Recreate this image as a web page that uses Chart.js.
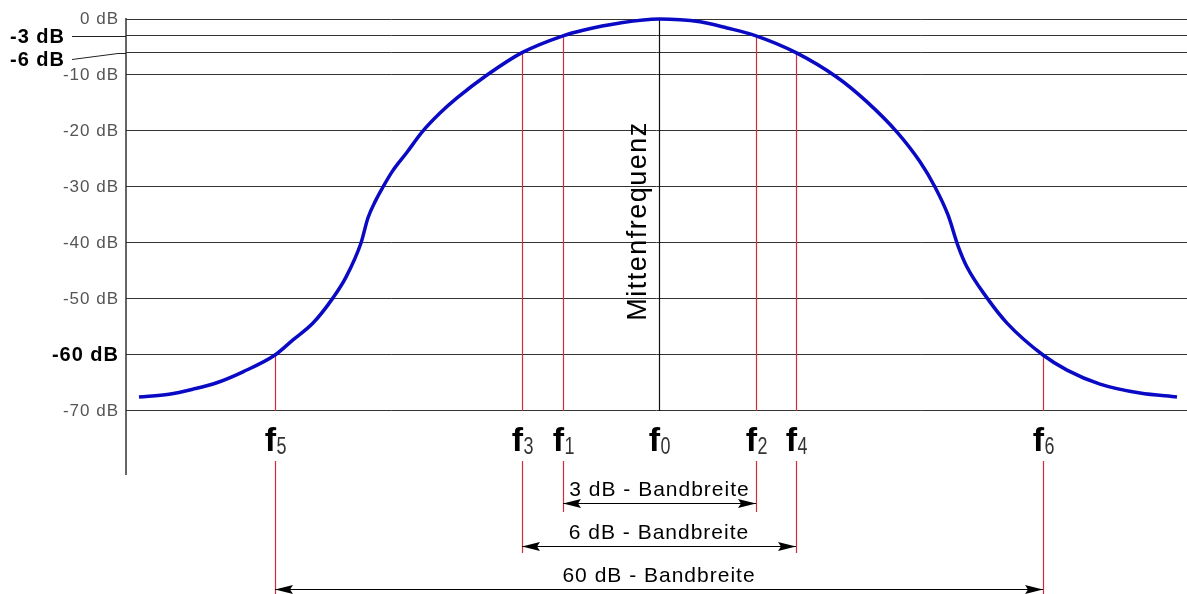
<!DOCTYPE html>
<html>
<head>
<meta charset="utf-8">
<script src="https://cdn.jsdelivr.net/npm/chart.js@4.4.0/dist/chart.umd.min.js"></script>
<style>
  html, body { margin: 0; padding: 0; background: #fff; }
  canvas { display: block; }
</style>
</head>
<body>
<canvas id="filterChart" width="1187" height="594"></canvas>
<script>
// frequency offset from the centre frequency (arbitrary units) and level in dB
const freq = [-5.20, -4.90, -4.66, -4.43, -4.16, -3.84, -3.66, -3.46, -3.26, -3.13,
  -2.98, -2.91, -2.83, -2.76, -2.67, -2.52, -2.37, -2.19, -2.02, -1.72,
  -1.37, -0.96, -0.76, -0.39, 0, 0.41, 0.68, 0.97, 1.37, 1.78,
  2.08, 2.38, 2.61, 2.76, 2.89, 2.99, 3.08, 3.28, 3.48, 3.84,
  4.08, 4.41, 4.81, 5.18];
const level = [-67.5, -67.0, -66.1, -65.0, -63.0, -60.0, -57.3, -54.3, -49.8, -46.1,
  -40.0, -35.5, -32.3, -30.0, -27.3, -23.8, -20.2, -16.8, -14.1, -10.0,
  -6.0, -3.0, -2.0, -0.7, 0, -0.5, -1.6, -3.0, -6.0, -10.4,
  -14.8, -20.2, -25.5, -30.0, -35.0, -40.5, -44.3, -49.8, -54.3, -60.0,
  -62.7, -65.2, -66.8, -67.5];

const dbTicks = [0, -3, -6, -10, -20, -30, -40, -50, -60, -70];
const sideTicks = [-3, -6];     // labelled further left, with a leader line

// f markers: subscript, frequency, level where the marker meets the curve
const markerNames = ["5", "3", "1", "0", "2", "4", "6"];
const markerFreq = [-3.84, -1.37, -0.96, 0, 0.97, 1.37, 3.84];
const markerLevel = [-60, -6, -3, 0, -3, -6, -60];

const bandNames = ["3 dB - Bandbreite", "6 dB - Bandbreite", "60 dB - Bandbreite"];
const bandFrom = [-0.96, -1.37, -3.84];
const bandTo = [0.97, 1.37, 3.84];

const centreLabel = "Mittenfrequenz";

const FONT = "'Liberation Sans', Arial, sans-serif";
Chart.defaults.font.family = FONT;

function arrowHead(ctx, tipX, y, dir) {
  ctx.beginPath();
  ctx.moveTo(tipX, y);
  ctx.lineTo(tipX + dir * 18, y - 4.5);
  ctx.lineTo(tipX + dir * 15, y);
  ctx.lineTo(tipX + dir * 18, y + 4.5);
  ctx.closePath();
  ctx.fill();
}

const annotations = {
  id: "annotations",
  beforeDraw(chart) {
    chart.ctx.letterSpacing = "1px";
  },
  beforeDatasetsDraw(chart) {
    const { ctx, chartArea: area, scales: { x, y } } = chart;
    const bottom70 = y.getPixelForValue(-70);
    const labelBase = area.bottom - 24;
    const bandY = [area.bottom + 28, area.bottom + 71, area.bottom + 114];
    const lineEnd = [area.bottom + 37, area.bottom + 78, chart.height];

    ctx.save();

    // y axis line
    ctx.strokeStyle = "#333";
    ctx.lineWidth = 1.5;
    ctx.beginPath();
    ctx.moveTo(area.left, area.top - 1);
    ctx.lineTo(area.left, area.bottom);
    ctx.stroke();

    // -3 / -6 dB labels with leaders
    ctx.lineWidth = 1;
    ctx.strokeStyle = "#222";
    ctx.fillStyle = "#000";
    ctx.font = "bold 20px " + FONT;
    ctx.letterSpacing = "1px";
    ctx.textAlign = "left";
    ctx.textBaseline = "middle";
    sideTicks.forEach((v, i) => {
      const py = Math.round(y.getPixelForValue(v)) + 0.5;
      const drop = i * 6;
      ctx.beginPath();
      ctx.moveTo(72, py + drop);
      ctx.lineTo(area.left - 8, py);
      ctx.lineTo(area.left, py);
      ctx.stroke();
      ctx.fillText(v + " dB", 10, py + drop + 1);
    });

    // marker lines and f labels
    markerFreq.forEach((f, i) => {
      const px = Math.round(x.getPixelForValue(f)) + 0.5;
      const centre = f === 0;
      ctx.strokeStyle = centre ? "#111" : "#d42a3a";
      ctx.lineWidth = 1.2;
      ctx.beginPath();
      ctx.moveTo(px, y.getPixelForValue(markerLevel[i]));
      ctx.lineTo(px, bottom70);
      if (!centre) {
        let b = bandFrom.indexOf(f);
        if (b < 0) b = bandTo.indexOf(f);
        ctx.moveTo(px, area.bottom - 14);
        ctx.lineTo(px, lineEnd[b]);
      }
      ctx.stroke();

      ctx.fillStyle = "#000";
      ctx.letterSpacing = "0px";
      ctx.font = "bold 34px " + FONT;
      ctx.textAlign = "right";
      ctx.textBaseline = "alphabetic";
      ctx.fillText("f", px + 0.5, labelBase);
      ctx.save();
      ctx.translate(px + 1, labelBase + 3);
      ctx.scale(0.78, 1);
      ctx.font = "23px " + FONT;
      ctx.fillStyle = "#333";
      ctx.textAlign = "left";
      ctx.fillText(markerNames[i], 0, 0);
      ctx.restore();
    });

    // bandwidth arrows
    bandNames.forEach((name, b) => {
      const x1 = x.getPixelForValue(bandFrom[b]);
      const x2 = x.getPixelForValue(bandTo[b]);
      const yy = Math.round(bandY[b]) + 0.5;
      ctx.strokeStyle = "#000";
      ctx.fillStyle = "#000";
      ctx.lineWidth = 1;
      ctx.beginPath();
      ctx.moveTo(x1, yy);
      ctx.lineTo(x2, yy);
      ctx.stroke();
      arrowHead(ctx, x1, yy, 1);
      arrowHead(ctx, x2, yy, -1);
      ctx.font = "21px " + FONT;
      ctx.letterSpacing = "1px";
      ctx.textAlign = "center";
      ctx.textBaseline = "alphabetic";
      ctx.fillText(name, (x1 + x2) / 2, yy - 8);
    });

    // centre frequency label
    ctx.save();
    ctx.translate(x.getPixelForValue(0) - 13, area.top + 202);
    ctx.rotate(-Math.PI / 2);
    ctx.font = "27px " + FONT;
    ctx.letterSpacing = "1.5px";
    ctx.fillStyle = "#000";
    ctx.textAlign = "center";
    ctx.textBaseline = "alphabetic";
    ctx.fillText(centreLabel, 0, 0);
    ctx.restore();

    ctx.restore();
  }
};

new Chart(document.getElementById("filterChart"), {
  type: "line",
  data: {
    datasets: [{
      data: freq.map((f, i) => ({ x: f, y: level[i] })),
      borderColor: "#0a0ac4",
      borderWidth: 3.5,
      pointRadius: 0,
      cubicInterpolationMode: "monotone",
      clip: false
    }]
  },
  options: {
    responsive: false,
    animation: false,
    layout: { padding: { top: 19, bottom: 119, left: 0, right: 0 } },
    plugins: { legend: { display: false }, tooltip: { enabled: false } },
    scales: {
      x: { type: "linear", min: -5.33, max: 5.28, display: false },
      y: {
        min: -81.43,
        max: 0,
        afterBuildTicks: s => { s.ticks = dbTicks.map(v => ({ value: v })); },
        afterFit: s => { s.width = 126; },
        border: { display: false },
        grid: { color: "#333", lineWidth: 1, drawTicks: false },
        ticks: {
          autoSkip: false,
          padding: 7,
          callback: v => sideTicks.includes(v) ? "" : v + " dB",
          color: c => (c.tick && c.tick.value === -60) ? "#000" : "#555",
          font: c => (c.tick && c.tick.value === -60) ? { size: 20, weight: "bold" } : { size: 17 }
        }
      }
    }
  },
  plugins: [annotations]
});
</script>
</body>
</html>
